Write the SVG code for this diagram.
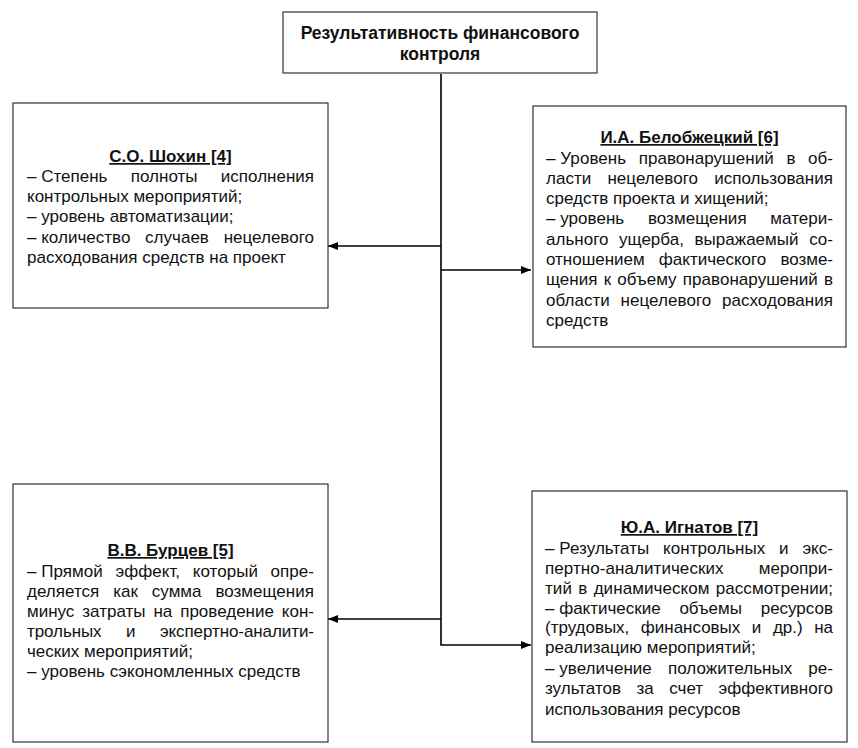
<svg xmlns="http://www.w3.org/2000/svg" width="858" height="748" viewBox="0 0 858 748">
<defs>
<marker id="ah" markerWidth="10" markerHeight="8" refX="10" refY="4" orient="auto" markerUnits="userSpaceOnUse">
<path d="M0,0 L10,4 L0,8 Z" fill="#000"/>
</marker>
<style>
.box{fill:#fff;stroke:#333;stroke-width:1.2}
.t{font-family:"Liberation Sans",Arial,sans-serif;font-size:17px;fill:#111}
.h{font-weight:bold;text-decoration:underline;text-anchor:middle}
.c{text-anchor:middle;font-weight:bold;font-size:17.5px}
.ln{stroke:#000;stroke-width:1.6;fill:none}
</style>
</defs>
<rect width="858" height="748" fill="#fff"/>
<g id="connectors">
<path class="ln" d="M441,74 V645 H531" marker-end="url(#ah)"/>
<path class="ln" d="M441,246 H328" marker-end="url(#ah)"/>
<path class="ln" d="M441,270 H531" marker-end="url(#ah)"/>
<path class="ln" d="M441,619 H328" marker-end="url(#ah)"/>
</g>
<g id="root">
<rect class="box" x="283" y="12" width="314" height="61"/>
<text class="t c" x="440" y="39">Результативность финансового</text>
<text class="t c" x="440" y="60">контроля</text>
</g>
<g id="shokhin">
<rect class="box" x="13" y="103" width="315" height="205"/>
<text class="t h" x="170.5" y="162">С.О. Шохин [4]</text>
<text class="t" x="27" y="182" textLength="287" lengthAdjust="spacing"><tspan>– </tspan><tspan word-spacing="18.6">Степень полноты исполнения</tspan></text>
<text class="t" x="27" y="202">контрольных мероприятий;</text>
<text class="t" x="27" y="222">– уровень автоматизации;</text>
<text class="t" x="27" y="243" textLength="287" lengthAdjust="spacing"><tspan>– </tspan><tspan word-spacing="10">количество случаев нецелевого</tspan></text>
<text class="t" x="27" y="263">расходования средств на проект</text>
</g>
<g id="belobzhetsky">
<rect class="box" x="533" y="106" width="313" height="241"/>
<text class="t h" x="689.5" y="143">И.А. Белобжецкий [6]</text>
<text class="t" x="546" y="164" textLength="287" lengthAdjust="spacing"><tspan>– </tspan><tspan word-spacing="7.8">Уровень правонарушений в об-</tspan></text>
<text class="t" x="546" y="184" word-spacing="11.4" textLength="287" lengthAdjust="spacing">ласти нецелевого использования</text>
<text class="t" x="546" y="204">средств проекта и хищений;</text>
<text class="t" x="546" y="224" textLength="287" lengthAdjust="spacing"><tspan>– </tspan><tspan word-spacing="19">уровень возмещения матери-</tspan></text>
<text class="t" x="546" y="245" word-spacing="5.9" textLength="287" lengthAdjust="spacing">ального ущерба, выражаемый со-</text>
<text class="t" x="546" y="265" word-spacing="9.5" textLength="287" lengthAdjust="spacing">отношением фактического возме-</text>
<text class="t" x="546" y="285" word-spacing="1.4" textLength="287" lengthAdjust="spacing">щения к объему правонарушений в</text>
<text class="t" x="546" y="306" word-spacing="5.9" textLength="287" lengthAdjust="spacing">области нецелевого расходования</text>
<text class="t" x="546" y="326">средств</text>
</g>
<g id="burtsev">
<rect class="box" x="13" y="484" width="315" height="258"/>
<text class="t h" x="170.5" y="556">В.В. Бурцев [5]</text>
<text class="t" x="27" y="577" textLength="287" lengthAdjust="spacing"><tspan>– </tspan><tspan word-spacing="7.9">Прямой эффект, который опре-</tspan></text>
<text class="t" x="27" y="597" word-spacing="9.1" textLength="287" lengthAdjust="spacing">деляется как сумма возмещения</text>
<text class="t" x="27" y="617" word-spacing="3.2" textLength="287" lengthAdjust="spacing">минус затраты на проведение кон-</text>
<text class="t" x="27" y="637" word-spacing="19.9" textLength="287" lengthAdjust="spacing">трольных и экспертно-аналити-</text>
<text class="t" x="27" y="657">ческих мероприятий;</text>
<text class="t" x="27" y="677">– уровень сэкономленных средств</text>
</g>
<g id="ignatov">
<rect class="box" x="532" y="491" width="315" height="251"/>
<text class="t h" x="689.5" y="533">Ю.А. Игнатов [7]</text>
<text class="t" x="545" y="554" textLength="288" lengthAdjust="spacing"><tspan>– </tspan><tspan word-spacing="9">Результаты контрольных и экс-</tspan></text>
<text class="t" x="545" y="574" word-spacing="30.3" textLength="288" lengthAdjust="spacing">пертно-аналитических меропри-</text>
<text class="t" x="545" y="594" word-spacing="1.5" textLength="288" lengthAdjust="spacing">тий в динамическом рассмотрении;</text>
<text class="t" x="545" y="614" textLength="288" lengthAdjust="spacing"><tspan>– </tspan><tspan word-spacing="14">фактические объемы ресурсов</tspan></text>
<text class="t" x="545" y="633" word-spacing="6.9" textLength="288" lengthAdjust="spacing">(трудовых, финансовых и др.) на</text>
<text class="t" x="545" y="653">реализацию мероприятий;</text>
<text class="t" x="545" y="674" textLength="288" lengthAdjust="spacing"><tspan>– </tspan><tspan word-spacing="11.4">увеличение положительных ре-</tspan></text>
<text class="t" x="545" y="694" word-spacing="10.7" textLength="288" lengthAdjust="spacing">зультатов за счет эффективного</text>
<text class="t" x="545" y="715">использования ресурсов</text>
</g>
</svg>
